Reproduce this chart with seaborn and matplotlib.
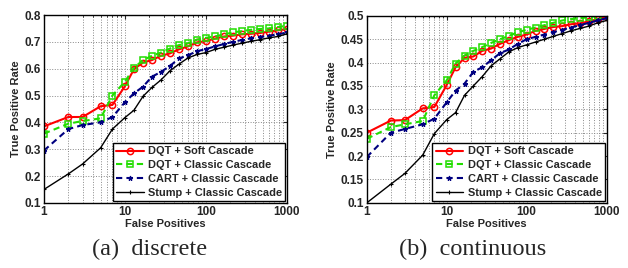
import numpy as np
import pandas as pd
import matplotlib
matplotlib.use("Agg")
import matplotlib.pyplot as plt
import seaborn as sns

fp = [1, 2, 3, 5, 7, 10, 12.9, 16.7, 21.5, 27.8, 35.9, 46.4, 59.9, 77.4, 100,
      129, 167, 215, 278, 359, 464, 599, 774, 1000]

labels = ["DQT + Soft Cascade", "DQT + Classic Cascade",
          "CART + Classic Cascade", "Stump + Classic Cascade"]

# (a) discrete
disc_dqt_soft = [0.385, 0.42, 0.42, 0.46, 0.465, 0.535, 0.598, 0.623, 0.632, 0.648, 0.657, 0.672,
                 0.683, 0.698, 0.703, 0.712, 0.72, 0.723, 0.728, 0.73, 0.733, 0.738, 0.743, 0.748]
disc_dqt_classic = [0.358, 0.395, 0.405, 0.415, 0.50, 0.552, 0.603, 0.632, 0.648, 0.66, 0.675, 0.688,
                    0.695, 0.708, 0.715, 0.72, 0.728, 0.735, 0.74, 0.745, 0.748, 0.75, 0.755, 0.76]
disc_cart = [0.295, 0.375, 0.39, 0.40, 0.42, 0.475, 0.508, 0.533, 0.57, 0.588, 0.61, 0.638,
             0.65, 0.665, 0.673, 0.683, 0.692, 0.70, 0.707, 0.713, 0.718, 0.723, 0.728, 0.735]
disc_stump = [0.15, 0.208, 0.245, 0.305, 0.375, 0.418, 0.445, 0.497, 0.53, 0.558, 0.592, 0.617,
              0.64, 0.653, 0.66, 0.672, 0.68, 0.688, 0.695, 0.702, 0.708, 0.715, 0.72, 0.73]

# (b) continuous
cont_dqt_soft = [0.25, 0.276, 0.277, 0.302, 0.305, 0.352, 0.39, 0.41, 0.413, 0.425, 0.43, 0.44,
                 0.448, 0.455, 0.46, 0.468, 0.472, 0.476, 0.478, 0.482, 0.484, 0.488, 0.493, 0.498]
cont_dqt_classic = [0.237, 0.262, 0.268, 0.275, 0.33, 0.362, 0.398, 0.415, 0.425, 0.433, 0.442, 0.45,
                    0.457, 0.465, 0.47, 0.475, 0.48, 0.485, 0.49, 0.493, 0.495, 0.497, 0.5, 0.505]
cont_cart = [0.198, 0.25, 0.258, 0.268, 0.28, 0.315, 0.34, 0.355, 0.38, 0.39, 0.405, 0.42,
             0.428, 0.44, 0.45, 0.455, 0.46, 0.465, 0.47, 0.475, 0.48, 0.485, 0.49, 0.495]
cont_stump = [0.1, 0.14, 0.163, 0.202, 0.248, 0.278, 0.293, 0.33, 0.35, 0.37, 0.393, 0.408,
              0.423, 0.432, 0.438, 0.444, 0.45, 0.456, 0.462, 0.468, 0.473, 0.478, 0.485, 0.49]

styles = [
    dict(color="#ff0000", marker="o", ls="-", lw=1.5, ms=4.5, mfc="none", mew=1.1),
    dict(color="#22dd00", marker="s", ls=(0, (3, 2)), lw=1.5, ms=4.5, mfc="none", mew=1.1),
    dict(color="#000080", marker="*", ls=(0, (3, 2)), lw=1.5, ms=3.5, mfc="#000080", mew=0.8),
    dict(color="#000000", marker="+", ls="-", lw=1.0, ms=3.5, mfc="none", mew=0.8),
]

sns.set_style("white")
plt.rcParams["font.family"] = ["Liberation Sans", "DejaVu Sans"]

fig = plt.figure(figsize=(6.28, 2.68), dpi=100)
ax1 = fig.add_axes([0.070, 0.243, 0.387, 0.701])
ax2 = fig.add_axes([0.584, 0.243, 0.382, 0.698])

panels = [
    (ax1, [disc_dqt_soft, disc_dqt_classic, disc_cart, disc_stump], (0.1, 0.8),
     [0.1, 0.2, 0.3, 0.4, 0.5, 0.6, 0.7, 0.8], "(a)  discrete", 0.238),
    (ax2, [cont_dqt_soft, cont_dqt_classic, cont_cart, cont_stump], (0.1, 0.5),
     [0.1, 0.15, 0.2, 0.25, 0.3, 0.35, 0.4, 0.45, 0.5], "(b)  continuous", 0.752),
]

for ax, series, ylim, yticks, caption, cx in panels:
    for vals, name, st in zip(series, labels, styles):
        df = pd.DataFrame({"fp": fp, "tpr": vals})
        sns.lineplot(data=df, x="fp", y="tpr", estimator=None, ax=ax, label=name,
                     color=st["color"], marker=st["marker"], linestyle=st["ls"],
                     linewidth=st["lw"], markersize=st["ms"],
                     markerfacecolor=st["mfc"], markeredgecolor=st["color"],
                     markeredgewidth=st["mew"])
    ax.set_xscale("log")
    ax.set_xlim(1, 1000)
    ax.set_ylim(*ylim)
    ax.set_yticks(yticks)
    ax.set_yticklabels([f"{t:g}" for t in yticks])
    ax.set_xticks([1, 10, 100, 1000])
    ax.set_xticklabels(["1", "10", "100", "1000"])
    ax.grid(True, which="major", axis="both", color="#888888", ls=":", lw=0.7)
    ax.grid(True, which="minor", axis="x", color="#888888", ls=":", lw=0.7)
    for s in ax.spines.values():
        s.set_color("black")
        s.set_linewidth(1.0)
    ax.tick_params(axis="both", which="major", labelsize=8.5, direction="in", length=3,
                   top=True, right=True, pad=2)
    ax.tick_params(axis="x", which="minor", direction="in", length=1.5, top=True)
    for t in ax.get_xticklabels() + ax.get_yticklabels():
        t.set_fontweight("bold")
    ax.set_xlabel("False Positives", fontsize=8, fontweight="bold", labelpad=1)
    ax.set_ylabel("True Positive Rate", fontsize=8, fontweight="bold", labelpad=3)
    leg = ax.legend(loc="lower right", fontsize=7.9, frameon=True, fancybox=False,
                    framealpha=1, edgecolor="black", borderpad=0.3, labelspacing=0.35,
                    handlelength=2.5, handletextpad=0.4, borderaxespad=0.15,
                    numpoints=1)
    leg.get_frame().set_linewidth(1.0)
    for t in leg.get_texts():
        t.set_fontweight("bold")
    fig.text(cx, 0.068, caption, ha="center", va="center",
             fontsize=17.5, family="Liberation Serif")

fig.savefig("out.png", dpi=100)
